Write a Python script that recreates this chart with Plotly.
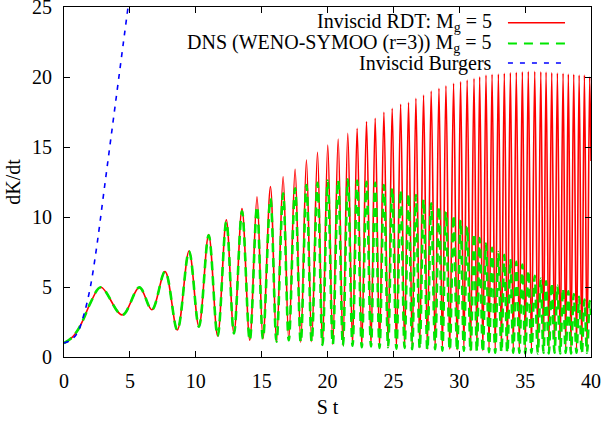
import plotly.graph_objects as go

# ---- data ----
# extremum times (S t) shared by the RDT and DNS curves
t_ext = [0.0, 0.5, 1.0, 1.5, 2.0, 2.8, 4.42, 5.72, 6.67, 7.67, 8.6, 9.49, 10.24, 10.98,
         11.66, 12.32, 12.9, 13.51, 14.1, 14.65, 15.1, 15.67, 16.13, 16.63, 17.06, 17.54,
         17.97, 18.4, 18.8, 19.24, 19.62, 20.02, 20.4, 20.81, 21.17, 21.54, 21.9, 22.25,
         22.6, 22.96, 23.3, 23.62, 23.95, 24.28, 24.6, 24.91, 25.23, 25.55, 25.85, 26.15,
         26.43, 26.71, 27.0, 27.29, 27.58, 27.87, 28.17, 28.46, 28.72, 28.99, 29.28, 29.57,
         29.84, 30.1, 30.35, 30.6, 30.86, 31.12, 31.34, 31.55, 31.79, 32.03, 32.26, 32.49,
         32.73, 32.97, 33.2, 33.42, 33.65, 33.88, 34.1, 34.33, 34.56, 34.79, 35.01, 35.24,
         35.48, 35.73, 35.96, 36.19, 36.39, 36.59, 36.8, 37.02, 37.23, 37.45, 37.66, 37.88,
         38.08, 38.28, 38.48, 38.69, 38.9, 39.1, 39.3, 39.5, 39.7, 39.9, 40.0]

rdt_vals = [1.0, 1.3, 1.85, 2.75, 3.85, 4.98, 3.0, 4.97, 3.38, 6.1, 1.93, 7.57, 2.17, 8.75,
            1.5, 9.8, 1.69, 10.6, 1.2, 11.45, 1.3, 12.17, 1.1, 12.88, 1.2, 13.4,
            1.05, 14.07, 1.1, 14.62, 0.86, 15.14, 0.9, 15.57, 0.85, 15.98, 0.85, 16.33,
            0.74, 16.81, 0.8, 17.05, 0.7, 17.48, 0.75, 17.76, 0.65, 18.05, 0.7, 18.19,
            0.6, 18.48, 0.65, 18.71, 0.55, 19.0, 0.6, 19.19, 0.5, 19.38, 0.55, 19.55,
            0.5, 19.67, 0.5, 19.79, 0.45, 19.9, 0.5, 20.02, 0.45, 20.14, 0.45, 20.19,
            0.4, 20.21, 0.45, 20.26, 0.4, 20.31, 0.4, 20.33, 0.4, 20.38, 0.35, 20.4,
            0.4, 20.4, 0.35, 20.38, 0.4, 20.36, 0.35, 20.31, 0.4, 20.29, 0.35, 20.26,
            0.4, 20.21, 0.35, 20.19, 0.4, 20.14, 0.35, 20.14, 0.4, 20.0, 14.0]

dns_vals = [1.0, 1.3, 1.85, 2.75, 3.85, 4.98, 3.0, 4.97, 3.38, 6.1, 1.93, 7.55, 2.17, 8.7,
            1.5, 9.65, 1.69, 10.4, 1.2, 10.74, 1.3, 11.33, 1.1, 11.69, 1.2, 12.05,
            1.05, 12.29, 1.1, 12.45, 0.86, 12.6, 0.9, 12.64, 0.8, 12.69, 0.8, 12.6,
            0.7, 12.52, 0.75, 12.45, 0.65, 12.29, 0.7, 12.05, 0.6, 11.93, 0.65, 11.69,
            0.55, 11.57, 0.6, 11.26, 0.5, 10.98, 0.55, 10.74, 0.45, 10.38, 0.5, 10.14,
            0.45, 9.79, 0.45, 9.31, 0.4, 8.83, 0.4, 8.5, 0.35, 8.1, 0.35, 7.8,
            0.3, 7.5, 0.35, 7.3, 0.3, 7.0, 0.3, 6.8, 0.3, 6.6, 0.25, 6.2,
            0.3, 5.8, 0.25, 5.6, 0.3, 5.4, 0.25, 5.3, 0.3, 5.1, 0.25, 4.9,
            0.3, 4.7, 0.25, 4.5, 0.3, 4.3, 0.25, 4.1, 0.3, 4.0, 3.0]

burgers_t = [0.0, 0.5, 1.0, 1.5, 2.0, 2.5, 3.0, 3.5, 4.0, 4.5, 5.0]
burgers_vals = [1.0, 1.2, 1.7, 3.0, 5.0, 8.0, 11.6, 15.2, 18.8, 22.4, 26.0]

x_ticks = [0, 5, 10, 15, 20, 25, 30, 35, 40]
y_ticks = [0, 5, 10, 15, 20, 25]

legend_labels = ["Inviscid RDT: M<sub>g</sub> = 5",
                 "DNS (WENO-SYMOO (r=3)) M<sub>g</sub> = 5",
                 "Inviscid Burgers"]

RED, GREEN, BLUE = "#ff0000", "#00e600", "#0000ff"
FONT = "Liberation Serif"
FS = 20

fig = go.Figure()
fig.add_trace(go.Scatter(x=t_ext, y=rdt_vals, mode="lines",
                         line=dict(color=RED, width=1.6, shape="spline"),
                         showlegend=False))
fig.add_trace(go.Scatter(x=t_ext, y=dns_vals, mode="lines",
                         line=dict(color=GREEN, width=2.6, shape="spline", dash="9px,6px"),
                         showlegend=False))
fig.add_trace(go.Scatter(x=burgers_t, y=burgers_vals, mode="lines",
                         line=dict(color=BLUE, width=1.6, shape="spline", dash="5px,6px"),
                         showlegend=False))

# gnuplot-style key: right-aligned text with line sample on its right
styles = [dict(color=RED, width=1.5),
          dict(color=GREEN, width=2, dash="9px,7px"),
          dict(color=BLUE, width=1.5, dash="5px,7px")]
rows_y = [0.955, 0.896, 0.840]
for lab, st, yy in zip(legend_labels, styles, rows_y):
    fig.add_annotation(x=0.8157, y=yy, xref="paper", yref="paper", text=lab,
                       showarrow=False, xanchor="right", yanchor="middle",
                       font=dict(family=FONT, size=FS, color="black"))
    fig.add_shape(type="line", xref="paper", yref="paper",
                  x0=0.8424, x1=0.9507, y0=yy, y1=yy, line=st)

axis_common = dict(showline=True, linecolor="black", linewidth=1, mirror="allticks",
                   ticks="inside", ticklen=6, tickcolor="black", showgrid=False,
                   zeroline=False, ticklabeloverflow="allow",
                   tickfont=dict(family=FONT, size=FS, color="black"))
fig.update_xaxes(range=[0, 40], tickvals=x_ticks, ticklabelstandoff=6,
                 title=dict(text="S t", font=dict(family=FONT, size=FS, color="black"),
                            standoff=8), **axis_common)
fig.update_yaxes(range=[0, 25], tickvals=y_ticks, ticklabelstandoff=7,
                 title=dict(text="dK/dt", font=dict(family=FONT, size=FS, color="black"),
                            standoff=6), **axis_common)
fig.update_layout(width=602, height=422, margin=dict(l=64, r=11, t=7, b=65, autoexpand=False),
                  plot_bgcolor="white", paper_bgcolor="white",
                  font=dict(family=FONT, size=FS, color="black"))
fig.write_html("out.html")
